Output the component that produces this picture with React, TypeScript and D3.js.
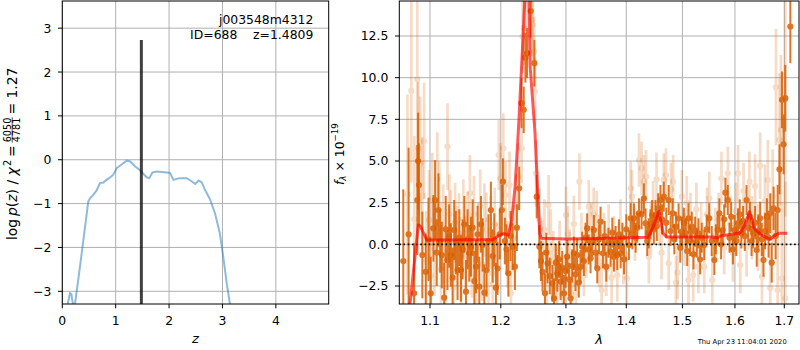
import React from "react";
import * as d3 from "d3";

// p(z) curve (left panel)
const pzZ = [0.07, 0.1, 0.144, 0.169, 0.2, 0.215, 0.238, 0.331, 0.487, 0.52, 0.58, 0.643, 0.706, 0.768, 0.83, 0.9, 0.955, 1.02, 1.11, 1.206, 1.27, 1.36, 1.455, 1.58, 1.63, 1.69, 1.77, 1.955, 2.018, 2.05, 2.08, 2.2, 2.33, 2.42, 2.49, 2.55, 2.61, 2.67, 2.77, 2.86, 2.95, 3.015, 3.08, 3.14, 3.17];
const pzLog = [-3.6, -3.3, -3.04, -3.06, -3.3, -3.45, -3.29, -2.44, -0.95, -0.88, -0.8, -0.7, -0.53, -0.52, -0.46, -0.4, -0.34, -0.19, -0.11, -0.02, -0.04, -0.15, -0.24, -0.4, -0.42, -0.29, -0.27, -0.29, -0.3, -0.38, -0.46, -0.42, -0.42, -0.49, -0.55, -0.48, -0.51, -0.68, -0.91, -1.22, -1.67, -2.21, -2.82, -3.29, -3.6];
const zBest = 1.4809;
const zBestTop = 2.73;

// spectrum, higher weight points (dark)
const darkWave = [1.0645, 1.0715, 1.0787, 1.083, 1.084, 1.0852, 1.0897, 1.0943, 1.098, 1.101, 1.1046, 1.1069, 1.1092, 1.1115, 1.1138, 1.1161, 1.1193, 1.1215, 1.1239, 1.1262, 1.1286, 1.131, 1.1332, 1.1355, 1.1379, 1.1403, 1.1427, 1.145, 1.1474, 1.1497, 1.152, 1.1544, 1.1568, 1.1592, 1.1616, 1.164, 1.1663, 1.1687, 1.1711, 1.1735, 1.176, 1.1792, 1.182, 1.1855, 1.188, 1.1904, 1.1928, 1.1952, 1.1985, 1.2016, 1.2031, 1.206, 1.2085, 1.2112, 1.2145, 1.2176, 1.221, 1.224, 1.2274, 1.2309, 1.2343, 1.2368, 1.2393, 1.245, 1.2506, 1.2541, 1.2582, 1.2607, 1.2632, 1.2669, 1.269, 1.2709, 1.2745, 1.2785, 1.2811, 1.284, 1.2863, 1.289, 1.2915, 1.294, 1.2968, 1.2995, 1.302, 1.3047, 1.3074, 1.31, 1.3127, 1.3153, 1.318, 1.3207, 1.3234, 1.3262, 1.329, 1.3317, 1.3343, 1.337, 1.3399, 1.3427, 1.3454, 1.3482, 1.351, 1.3538, 1.3565, 1.3604, 1.3633, 1.3661, 1.3697, 1.3733, 1.3762, 1.379, 1.3818, 1.3846, 1.3875, 1.3904, 1.3933, 1.3962, 1.4, 1.4046, 1.4075, 1.4104, 1.4133, 1.4162, 1.4191, 1.422, 1.4266, 1.4306, 1.4336, 1.4365, 1.4394, 1.4423, 1.4452, 1.4482, 1.4512, 1.4535, 1.4558, 1.4601, 1.463, 1.466, 1.4705, 1.4749, 1.4785, 1.4822, 1.4851, 1.4881, 1.493, 1.496, 1.499, 1.5027, 1.5063, 1.5088, 1.5113, 1.5143, 1.5174, 1.5205, 1.5236, 1.5267, 1.5298, 1.533, 1.536, 1.5408, 1.5455, 1.5503, 1.555, 1.56, 1.563, 1.5663, 1.5697, 1.573, 1.5761, 1.579, 1.5814, 1.586, 1.5893, 1.5926, 1.596, 1.5993, 1.6027, 1.606, 1.6094, 1.6127, 1.616, 1.6195, 1.623, 1.6263, 1.6297, 1.633, 1.6364, 1.64, 1.6434, 1.6468, 1.6503, 1.6537, 1.6571, 1.6605, 1.6641, 1.6675, 1.6709, 1.674, 1.6778, 1.682, 1.6862, 1.69, 1.6952, 1.6985, 1.7021, 1.7127];
const darkFlux = [-1.0, 0.6, -2.94, 2.66, 5.0, 3.56, -0.64, -1.65, 0.3, -2.94, 0.96, 2.66, -0.5, 2.06, 0.2, -0.64, -3.2, 0.9, -0.94, 0.5, -0.64, -2.0, 0.86, 0.1, -1.54, 0.4, -1.54, -0.3, 1.2, -2.84, 0.3, -0.54, -0.14, 1.0, -2.2, -1.34, 0.6, -2.54, 1.2, -0.04, -2.9, -1.54, 0.2, 2.06, -0.7, 0.26, -2.6, -1.44, 0.6, 2.06, 3.76, 0.2, -0.3, -1.74, 0.5, -0.14, -1.34, 1.0, 3.36, 8.47, 8.07, 11.2, 11.47, 14.0, 10.87, 2.86, -0.14, -1.0, -1.65, -2.94, -0.5, -1.14, -1.9, -2.34, -3.24, -1.1, -1.74, -0.9, -2.24, -1.4, -2.94, -1.6, -0.74, -2.1, -3.24, -1.3, -0.54, -1.8, -0.64, -2.3, -1.34, -0.14, -1.0, 0.4, 0.96, -0.3, -0.84, 0.2, 0.86, -0.5, -1.44, 0.3, 1.36, -0.54, 0.5, -1.34, 0.1, -0.44, 0.7, -0.74, 0.2, -0.64, 0.6, -0.54, 0.4, -0.9, 0.9, -0.04, 1.56, 0.6, 1.56, 0.4, 1.0, 1.86, 1.8, 2.76, 1.26, 0.2, 0.66, 1.2, 1.76, 0.9, 1.76, 1.1, 2.16, 2.66, 1.5, 2.86, 1.3, 2.66, 0.8, 1.86, 0.3, 1.06, 1.56, -0.2, 0.76, 1.3, 0.66, -0.4, 1.56, 0.2, 1.06, -0.6, 0.76, 0.1, 0.66, -0.9, 0.4, -0.04, 0.9, 1.56, 0.2, -0.94, 0.3, 0.86, 1.86, 0.0, 0.86, 1.5, 3.1, 2.66, 0.4, 1.66, -0.3, 0.86, 0.2, 1.26, 1.8, 0.66, 1.4, 0.5, 2.66, 1.0, 1.66, 0.2, 0.66, 1.3, -0.34, 0.8, 1.56, 0.3, -0.94, 0.8, 1.66, 0.4, 1.86, -1.1, 2.16, 0.5, 2.06, 4.5, 8.67, 6.0, 8.77, 13.07];
const darkErr = [4.3, 5.2, 3.0, 3.3, 2.9, 2.5, 2.6, 2.3, 2.5, 2.2, 2.0, 2.4, 2.0, 2.2, 1.9, 2.0, 2.1, 2.0, 1.8, 1.9, 1.9, 1.8, 1.8, 1.9, 1.8, 1.7, 1.9, 1.8, 1.7, 1.9, 1.8, 1.7, 1.8, 1.7, 1.8, 1.6, 1.7, 1.8, 1.7, 1.6, 1.7, 1.6, 1.6, 1.7, 1.6, 1.6, 1.5, 1.6, 1.5, 1.5, 1.4, 1.4, 1.5, 1.4, 1.5, 1.4, 1.4, 1.4, 1.3, 1.5, 1.4, 1.5, 1.5, 1.6, 1.4, 1.3, 1.3, 1.2, 1.2, 1.2, 1.2, 1.2, 1.1, 1.1, 1.2, 1.1, 1.1, 1.1, 1.1, 1.0, 1.1, 1.0, 1.0, 1.0, 1.0, 1.0, 1.0, 1.0, 1.0, 0.9, 1.0, 0.9, 0.9, 0.9, 0.9, 0.9, 0.9, 0.9, 0.9, 0.9, 0.9, 0.9, 0.9, 0.9, 0.9, 0.9, 0.9, 0.9, 0.9, 0.9, 0.9, 0.9, 0.9, 0.9, 0.9, 0.9, 0.9, 0.9, 0.9, 0.9, 0.9, 0.9, 0.9, 0.9, 0.9, 0.9, 0.9, 0.9, 0.9, 0.9, 0.9, 0.9, 0.9, 0.9, 0.9, 0.9, 0.9, 0.9, 0.9, 0.9, 0.9, 0.9, 0.9, 0.9, 0.9, 0.9, 0.9, 0.9, 0.9, 0.9, 0.9, 0.9, 0.9, 0.9, 0.9, 0.9, 0.9, 0.9, 0.9, 0.9, 0.9, 0.9, 0.9, 0.9, 0.9, 0.9, 0.9, 0.9, 0.9, 0.9, 0.9, 0.9, 0.9, 0.9, 0.9, 0.9, 0.9, 0.9, 0.9, 0.9, 0.9, 0.9, 0.9, 0.9, 0.9, 0.9, 0.9, 1.0, 1.0, 1.0, 1.0, 1.0, 1.0, 1.1, 1.1, 1.2, 1.2, 1.2, 1.3, 1.4, 1.5, 1.5, 1.7, 1.8, 2.0, 2.2, 3.0, 4.5, 5.0, 6.0, 8.0];

// spectrum, lower weight points (light)
const lightWave = [1.07, 1.0751, 1.079, 1.083, 1.0843, 1.087, 1.0897, 1.092, 1.095, 1.0987, 1.101, 1.1031, 1.106, 1.11, 1.1125, 1.115, 1.118, 1.121, 1.1239, 1.1265, 1.1286, 1.132, 1.1345, 1.137, 1.14, 1.143, 1.146, 1.149, 1.152, 1.1553, 1.158, 1.161, 1.164, 1.167, 1.17, 1.173, 1.176, 1.179, 1.182, 1.185, 1.188, 1.191, 1.1945, 1.197, 1.1995, 1.2037, 1.207, 1.21, 1.213, 1.215, 1.219, 1.223, 1.226, 1.2311, 1.2325, 1.2345, 1.238, 1.2465, 1.248, 1.25, 1.2515, 1.253, 1.2582, 1.262, 1.266, 1.27, 1.2725, 1.276, 1.28, 1.283, 1.2863, 1.29, 1.294, 1.3, 1.303, 1.306, 1.31, 1.3127, 1.316, 1.3217, 1.325, 1.329, 1.333, 1.337, 1.341, 1.345, 1.35, 1.354, 1.3583, 1.362, 1.366, 1.37, 1.375, 1.379, 1.3846, 1.39, 1.395, 1.401, 1.4075, 1.41, 1.415, 1.422, 1.4266, 1.4306, 1.4345, 1.4394, 1.443, 1.447, 1.453, 1.458, 1.462, 1.466, 1.47, 1.4749, 1.479, 1.483, 1.4881, 1.491, 1.499, 1.504, 1.508, 1.5113, 1.515, 1.52, 1.526, 1.5298, 1.535, 1.5408, 1.546, 1.5503, 1.556, 1.562, 1.568, 1.5737, 1.579, 1.586, 1.591, 1.596, 1.602, 1.606, 1.6104, 1.617, 1.623, 1.6287, 1.634, 1.64, 1.646, 1.6503, 1.654, 1.66, 1.666, 1.6709, 1.676, 1.6827, 1.6862, 1.69, 1.693, 1.695, 1.702, 1.7021];
const lightFlux = [3.0, 9.22, 1.5, 9.9, 5.76, 4.86, 2.92, 6.2, -1.0, 1.46, -1.9, 2.7, -0.3, 3.92, 2.36, -1.5, 1.0, -2.2, 5.86, 1.8, 0.86, -2.6, 1.3, -0.1, 0.66, -1.8, 1.5, -0.6, 0.86, 3.06, -0.9, 1.8, -2.0, 0.3, 2.3, -1.2, 1.46, 0.9, -2.4, 0.7, -1.74, 1.2, -0.8, 5.36, 3.96, 5.76, 2.96, -0.6, 3.56, -2.94, 0.36, 2.2, 4.06, 5.76, 12.47, 12.97, 15.0, 13.47, 13.17, 11.57, 9.17, 4.26, 1.46, -0.5, 0.9, -2.0, 2.36, 0.3, -1.0, -1.8, -2.64, -0.3, -3.0, 1.76, 0.6, -0.8, -2.4, 1.22, -2.94, 3.76, 0.2, -1.5, -0.4, 2.26, 0.9, 1.8, 1.6, -1.0, -2.74, 0.3, -1.5, 0.8, -2.0, 0.1, -1.84, 1.1, -0.8, -2.04, 3.36, 2.86, 0.6, 5.06, 4.56, 3.76, 4.06, -0.74, 1.0, 2.2, 3.9, 1.5, -0.5, 3.86, 4.16, -1.14, 3.3, 3.76, -2.3, -1.7, 2.86, 0.3, 2.5, -2.14, 1.5, -1.84, 2.1, -1.34, 0.9, -1.34, 1.8, 2.76, -2.14, 0.6, 1.5, 3.96, -0.2, 4.26, 1.2, -0.54, 2.0, 4.26, -1.24, 3.2, -0.14, 3.76, 1.0, 3.5, 0.4, 4.72, -1.94, 2.6, 3.86, -2.64, 2.9, 9.43, -2.74, 6.26, 6.86, -2.04, 8.67, -3.24];
const lightErr = [6.0, 5.5, 5.0, 5.0, 4.0, 4.0, 3.5, 3.5, 3.0, 3.0, 3.0, 2.8, 2.8, 2.8, 2.6, 2.6, 2.6, 2.6, 2.6, 2.4, 2.4, 2.4, 2.4, 2.4, 2.4, 2.4, 2.4, 2.3, 2.3, 2.3, 2.3, 2.3, 2.3, 2.2, 2.2, 2.2, 2.2, 2.2, 2.2, 2.2, 2.2, 2.2, 2.1, 2.1, 2.1, 2.1, 2.0, 2.0, 2.0, 2.0, 2.0, 2.0, 2.0, 2.1, 2.2, 2.2, 2.2, 2.2, 2.2, 2.1, 2.0, 2.0, 1.9, 1.9, 1.8, 1.8, 1.8, 1.8, 1.8, 1.7, 1.7, 1.7, 1.7, 1.7, 1.7, 1.7, 1.7, 1.7, 1.7, 1.7, 1.7, 1.6, 1.6, 1.6, 1.6, 1.6, 1.6, 1.6, 1.6, 1.6, 1.6, 1.6, 1.6, 1.6, 1.6, 1.6, 1.6, 1.6, 1.6, 1.6, 1.6, 1.6, 1.6, 1.6, 1.6, 1.6, 1.6, 1.6, 1.6, 1.6, 1.6, 1.6, 1.6, 1.6, 1.6, 1.6, 1.6, 1.6, 1.6, 1.6, 1.6, 1.6, 1.6, 1.6, 1.6, 1.6, 1.6, 1.6, 1.6, 1.6, 1.6, 1.6, 1.6, 1.6, 1.6, 1.6, 1.7, 1.7, 1.7, 1.7, 1.7, 1.7, 1.8, 1.8, 1.9, 1.9, 2.0, 2.0, 2.1, 2.2, 2.4, 2.5, 2.8, 3.5, 3.5, 4.0, 4.5, 4.5, 7.0, 7.0];

// best-fit template (red)
const modelWave = [1.066, 1.0733, 1.0843, 1.087, 1.0955, 1.12, 1.15, 1.189, 1.196, 1.204, 1.211, 1.216, 1.2213, 1.2265, 1.2311, 1.236, 1.2408, 1.244, 1.2515, 1.2563, 1.2588, 1.2613, 1.3, 1.35, 1.4, 1.4383, 1.447, 1.4574, 1.465, 1.4709, 1.52, 1.558, 1.565, 1.5737, 1.6104, 1.6205, 1.6287, 1.6376, 1.6516, 1.6707, 1.6827, 1.6896, 1.706];
const modelFlux = [-8.0, -3.6, 1.16, 1.1, 0.26, 0.26, 0.27, 0.28, 0.5, 0.65, 0.55, 1.4, 3.46, 7.06, 10.7, 14.7, 17.5, 10.7, 6.7, 2.66, 0.68, 0.36, 0.32, 0.35, 0.39, 0.42, 1.06, 1.96, 0.66, 0.44, 0.44, 0.44, 0.38, 0.52, 0.68, 1.2, 1.96, 0.98, 0.58, 0.3, 0.58, 0.66, 0.66];

const zTicks = [0, 1, 2, 3, 4];
const pzTicks = [-3, -2, -1, 0, 1, 2, 3];
const waveTicks = [1.1, 1.2, 1.3, 1.4, 1.5, 1.6, 1.7];
const fluxTicks = [-2.5, 0, 2.5, 5, 7.5, 10, 12.5];

const objName = "j003548m4312";
const objInfo = "ID=688    z=1.4809";
const stamp = "Thu Apr 23 11:04:01 2020";

const FONT = "DejaVu Sans";
const FS = 12.4;
const ORANGE = "#d95f02";
const GRID = "#b0b0b0";

const L = { x0: 62.3, x1: 328.7, y0: 1, y1: 304 };
const R = { x0: 399.3, x1: 799, y0: 1, y1: 304 };

const minus = (s: string) => s.replace("-", "\u2212");

const App: React.FC = () => {
  const xz = d3.scaleLinear().domain([0, 4.99]).range([L.x0, L.x1]);
  const yp = d3.scaleLinear().domain([-3.29, 3.62]).range([L.y1, L.y0]);
  const xw = d3.scaleLog().domain([1.0593, 1.731]).range([R.x0, R.x1]);
  const yf = d3.scaleLinear().domain([-3.58, 14.6]).range([R.y1, R.y0]);

  const pzLine = d3
    .line<number>()
    .x((_, i) => xz(pzZ[i]))
    .y((d) => yp(d))(pzLog);
  const modelLine = d3
    .line<number>()
    .x((_, i) => xw(modelWave[i]))
    .y((d) => yf(d))(modelFlux);

  const errPoints = (
    wave: number[],
    flux: number[],
    err: number[],
    op: number,
    lw: number,
    key: string
  ) =>
    wave.map((w, i) => (
      <g key={key + i} opacity={op}>
        <line
          x1={xw(w)}
          x2={xw(w)}
          y1={yf(flux[i] - err[i])}
          y2={yf(flux[i] + err[i])}
          stroke={ORANGE}
          strokeWidth={lw}
        />
        <circle cx={xw(w)} cy={yf(flux[i])} r={3.1} fill={ORANGE} />
      </g>
    ));

  // left y label pieces (font 13.9, laid out along the rotated axis)
  const LF = 13.9;
  const SF = 9.7;

  return (
    <svg
      width={800}
      height={350}
      style={{ position: "absolute", left: 0, top: 0 }}
      fontFamily={FONT}
    >
      <rect width={800} height={350} fill="white" />
      <defs>
        <clipPath id="clipL">
          <rect x={L.x0} y={L.y0} width={L.x1 - L.x0} height={L.y1 - L.y0} />
        </clipPath>
        <clipPath id="clipR">
          <rect x={R.x0} y={R.y0} width={R.x1 - R.x0} height={R.y1 - R.y0} />
        </clipPath>
      </defs>

      {/* left panel */}
      <g>
        {zTicks.map((t) => (
          <line key={"gz" + t} x1={xz(t)} x2={xz(t)} y1={L.y0} y2={L.y1} stroke={GRID} strokeWidth={1} />
        ))}
        {pzTicks.map((t) => (
          <line key={"gp" + t} x1={L.x0} x2={L.x1} y1={yp(t)} y2={yp(t)} stroke={GRID} strokeWidth={1} />
        ))}
        <g clipPath="url(#clipL)">
          <path d={pzLine || ""} fill="none" stroke="#1f77b4" strokeOpacity={0.5} strokeWidth={2} />
          <line
            x1={xz(zBest)}
            x2={xz(zBest)}
            y1={yp(-3.6)}
            y2={yp(zBestTop)}
            stroke="#000"
            strokeOpacity={0.75}
            strokeWidth={3}
          />
        </g>
        <rect x={L.x0} y={L.y0} width={L.x1 - L.x0} height={L.y1 - L.y0} fill="none" stroke="#000" strokeWidth={1} />
        {zTicks.map((t) => (
          <g key={"tz" + t}>
            <line x1={xz(t)} x2={xz(t)} y1={L.y1} y2={L.y1 + 4.3} stroke="#000" />
            <text x={xz(t)} y={L.y1 + 21} fontSize={FS} textAnchor="middle">
              {t}
            </text>
          </g>
        ))}
        {pzTicks.map((t) => (
          <g key={"tp" + t}>
            <line x1={L.x0 - 4.3} x2={L.x0} y1={yp(t)} y2={yp(t)} stroke="#000" />
            <text x={L.x0 - 11} y={yp(t)} dy="0.36em" fontSize={FS} textAnchor="end">
              {minus(String(t))}
            </text>
          </g>
        ))}
        <text x={313.3} y={24} fontSize={FS} textAnchor="end">
          {objName}
        </text>
        <text x={313.3} y={38.5} fontSize={FS} textAnchor="end" style={{ whiteSpace: "pre" }}>
          {objInfo}
        </text>
        <text x={(L.x0 + L.x1) / 2} y={343} fontSize={FS + 0.6} fontStyle="italic" textAnchor="middle">
          z
        </text>
        <g transform="translate(16.5,240) rotate(-90)" fontSize={LF}>
          <text x={0} y={0}>log</text>
          <text x={24} y={0}>
            <tspan fontStyle="italic">p</tspan>(<tspan fontStyle="italic">z</tspan>)
          </text>
          <text x={55.4} y={0}>/</text>
          <text x={64.5} y={0} fontStyle="italic">χ</text>
          <text x={74} y={-6} fontSize={SF}>2</text>
          <text x={83} y={0}>=</text>
          <text x={110} y={-5.5} fontSize={SF} textAnchor="middle">6050</text>
          <line x1={97.3} x2={122.7} y1={-4.3} y2={-4.3} stroke="#000" strokeWidth={0.7} />
          <text x={110} y={3.9} fontSize={SF} textAnchor="middle">4781</text>
          <text x={125.5} y={0}>=</text>
          <text x={141.5} y={0}>1.27</text>
        </g>
      </g>

      {/* right panel */}
      <g>
        {waveTicks.map((t) => (
          <line key={"gw" + t} x1={xw(t)} x2={xw(t)} y1={R.y0} y2={R.y1} stroke={GRID} strokeWidth={1} />
        ))}
        {fluxTicks.map((t) => (
          <line key={"gf" + t} x1={R.x0} x2={R.x1} y1={yf(t)} y2={yf(t)} stroke={GRID} strokeWidth={1} />
        ))}
        <g clipPath="url(#clipR)">
          {errPoints(lightWave, lightFlux, lightErr, 0.22, 2.7, "l")}
          {errPoints(darkWave, darkFlux, darkErr, 0.85, 2.0, "d")}
          <line
            x1={R.x0}
            x2={R.x1}
            y1={yf(0)}
            y2={yf(0)}
            stroke="#000"
            strokeWidth={1.8}
            strokeDasharray="1.6,2.6"
          />
          <path d={modelLine || ""} fill="none" stroke="red" strokeOpacity={0.65} strokeWidth={3} strokeLinejoin="round" />
        </g>
        <rect x={R.x0} y={R.y0} width={R.x1 - R.x0} height={R.y1 - R.y0} fill="none" stroke="#000" strokeWidth={1} />
        {waveTicks.map((t) => (
          <g key={"tw" + t}>
            <line x1={xw(t)} x2={xw(t)} y1={R.y1} y2={R.y1 + 4.3} stroke="#000" />
            <text x={xw(t)} y={R.y1 + 21} fontSize={FS} textAnchor="middle">
              {t.toFixed(1)}
            </text>
          </g>
        ))}
        {fluxTicks.map((t) => (
          <g key={"tf" + t}>
            <line x1={R.x0 - 4.3} x2={R.x0} y1={yf(t)} y2={yf(t)} stroke="#000" />
            <text x={R.x0 - 11} y={yf(t)} dy="0.36em" fontSize={FS} textAnchor="end">
              {minus(t.toFixed(1))}
            </text>
          </g>
        ))}
        <text x={(R.x0 + R.x1) / 2} y={344} fontSize={FS + 0.6} fontStyle="italic" textAnchor="middle">
          λ
        </text>
        <g transform="translate(343.5,185) rotate(-90)" fontSize={FS}>
          <text x={0} y={0}>
            <tspan fontStyle="italic">f</tspan>
            <tspan fontSize={8.7} fontStyle="italic" dy={2.8}>λ</tspan>
            <tspan dy={-2.8}> × 10</tspan>
            <tspan fontSize={8.7} dy={-5.2}>−19</tspan>
          </text>
        </g>
        <text x={697.7} y={343.5} fontSize={6.75}>
          {stamp}
        </text>
      </g>
    </svg>
  );
};

export default App;
